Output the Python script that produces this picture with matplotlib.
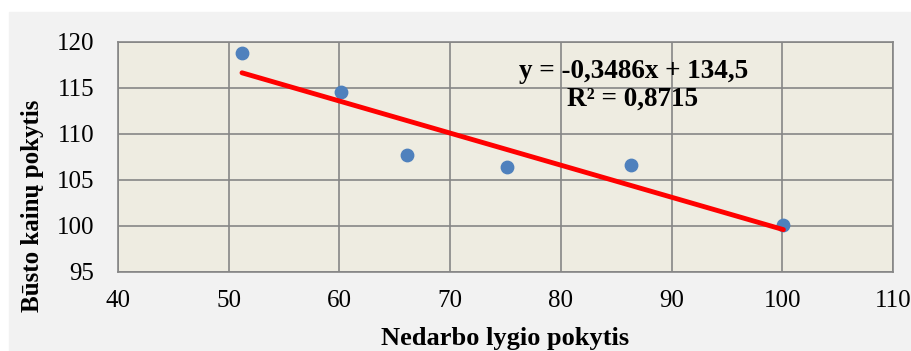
import numpy as np
import matplotlib.pyplot as plt

plt.rcParams['font.family'] = ['Liberation Serif', 'DejaVu Serif']

# unemployment change vs housing price change
nedarbo = [51.2, 60.1, 66.1, 75.1, 86.3, 100.1]
busto = [118.8, 114.6, 107.7, 106.4, 106.6, 100.1]

slope = -0.3486
intercept = 134.5
eq_label = 'y = -0,3486x + 134,5'
r2_label = 'R² = 0,8715'

x_ticks = [40, 50, 60, 70, 80, 90, 100, 110]
y_ticks = [95, 100, 105, 110, 115, 120]

fig = plt.figure(figsize=(9.12, 3.51), dpi=100, facecolor='white')
fig.patches.append(plt.Rectangle((9 / 912, 0), 1, 1 - 12 / 351,
                                 transform=fig.transFigure, color='#F2F2F2', zorder=-1))
ax = fig.add_axes([118 / 912, 1 - 272 / 351, 775 / 912, 230 / 351])
ax.set_facecolor('#EEECE1')

ax.scatter(nedarbo, busto, s=80, color='#4F81BD', zorder=3)
xl = np.array([nedarbo[0], nedarbo[-1]])
ax.plot(xl, slope * xl + intercept, color='#FF0000', lw=3.5, zorder=4, solid_capstyle='round')

ax.set_xlim(40, 110)
ax.set_ylim(95, 120)
ax.set_xticks(x_ticks)
ax.set_yticks(y_ticks)
ax.tick_params(length=0, labelsize=18)
ax.tick_params(axis='x', pad=13)
ax.tick_params(axis='y', pad=17)
ax.grid(True, color='#868686', lw=1.2)
ax.set_axisbelow(True)
for s in ax.spines.values():
    s.set_color('#868686')
    s.set_linewidth(1.2)

fig.text(634 / 912, 1 - 72 / 351, eq_label, fontsize=19.5, fontweight='bold',
         ha='center', va='center')
fig.text(633 / 912, 1 - 99 / 351, r2_label, fontsize=19.5, fontweight='bold',
         ha='center', va='center')

fig.text(505 / 912, 1 - 338 / 351, 'Nedarbo lygio pokytis', fontsize=19, fontweight='bold',
         ha='center', va='center')
fig.text(33 / 912, 1 - 206 / 351, 'Būsto kainų pokytis', fontsize=18, fontweight='bold',
         ha='center', va='center', rotation=90)

plt.savefig('out.png', dpi=100, facecolor=fig.get_facecolor())
